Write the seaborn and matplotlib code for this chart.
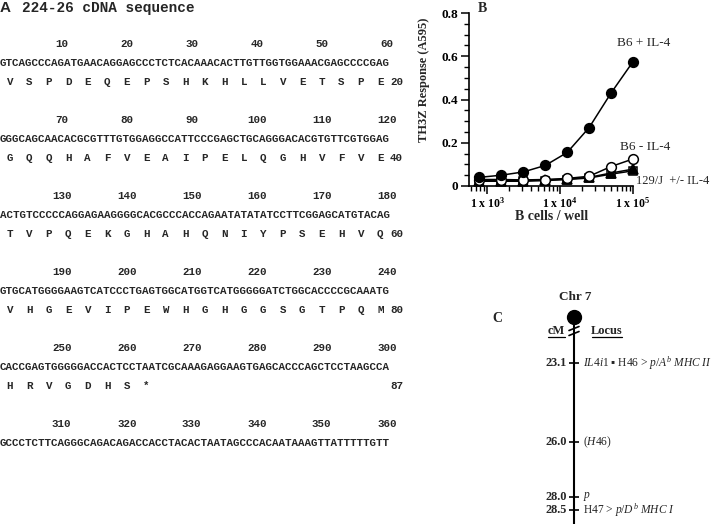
import numpy as np
import pandas as pd
import matplotlib
matplotlib.use("Agg")
import matplotlib.pyplot as plt
from matplotlib.ticker import MultipleLocator, LogLocator, NullFormatter
import seaborn as sns

sns.set_theme(style="ticks")
plt.rcParams["font.family"] = ["Liberation Serif", "DejaVu Sans"]
plt.rcParams["mathtext.fontset"] = "custom"
plt.rcParams["mathtext.rm"] = "Liberation Serif"
plt.rcParams["mathtext.it"] = "Liberation Serif:italic"
plt.rcParams["mathtext.bf"] = "Liberation Serif:bold"

# ---------------- Panel A data ----------------
seq_title = "224-26 cDNA sequence"
seq_lines = [
    "GTCAGCCCAGATGAACAGGAGCCCTCTCACAAACACTTGTTGGTGGAAACGAGCCCCGAG",
    "GGGCAGCAACACGCGTTTGTGGAGGCCATTCCCGAGCTGCAGGGACACGTGTTCGTGGAG",
    "ACTGTCCCCCAGGAGAAGGGGCACGCCCACCAGAATATATATCCTTCGGAGCATGTACAG",
    "GTGCATGGGGAAGTCATCCCTGAGTGGCATGGTCATGGGGGATCTGGCACCCCGCAAATG",
    "CACCGAGTGGGGGACCACTCCTAATCGCAAAGAGGAAGTGAGCACCCAGCTCCTAAGCCA",
    "GCCCTCTTCAGGGCAGACAGACCACCTACACTAATAGCCCACAATAAAGTTATTTTTGTT",
]
protein_lines = [
    "VSPDEQEPSHKHLLVETSPE",
    "GQQHAFVEAIPELQGHVFVE",
    "TVPQEKGHAHQNIYPSEHVQ",
    "VHGEVIPEWHGHGGSGTPQM",
    "HRVGDHS*",
    "",
]
protein_counts = ["20", "40", "60", "80", "87", ""]
ruler_step = 10

# ---------------- Panel B data ----------------
cells = [781.25, 1562.5, 3125, 6250, 12500, 25000, 50000, 100000]
b6_plus = [0.040, 0.050, 0.065, 0.095, 0.155, 0.270, 0.430, 0.575]
b6_minus = [0.030, 0.030, 0.028, 0.030, 0.035, 0.045, 0.090, 0.125]
j129_plus = [0.025, 0.025, 0.025, 0.028, 0.032, 0.040, 0.060, 0.078]
j129_minus = [0.022, 0.022, 0.022, 0.025, 0.030, 0.037, 0.055, 0.070]
y_ticks = [0, 0.2, 0.4, 0.6, 0.8]
y_tick_labels = ["0", "0.2", "0.4", "0.6", "0.8"]
x_ticks = [1e3, 1e4, 1e5]
x_tick_labels = [r"1 x 10$^{\mathbf{3}}$", r"1 x 10$^{\mathbf{4}}$", r"1 x 10$^{\mathbf{5}}$"]

# ---------------- Panel C data ----------------
loci_cm = [23.1, 26.0, 28.0, 28.5]
loci_cm_labels = ["23.1", "26.0", "28.0", "28.5"]
loci_names = [
    r"$\mathit{IL4i1}$ ▪ H46 > $\mathit{p/A^b\ MHC\ II}$",
    r"$\mathit{(H46)}$",
    r"$\mathit{p}$",
    r"H47 > $\mathit{p/D^b\ MHC\ I}$",
]

W, H = 720, 524
fig = plt.figure(figsize=(7.2, 5.24), dpi=100)
fig.patch.set_facecolor("white")


def box(l, t, r, b):
    return [l / W, 1 - b / H, (r - l) / W, (b - t) / H]


# overlay in pixel coordinates
axA = fig.add_axes([0, 0, 1, 1])
axA.set_xlim(0, W)
axA.set_ylim(H, 0)
axA.axis("off")

mono = "Liberation Mono"
cw = 6.5
fs_seq = cw / 0.6 * 72 / 100
axA.text(0, 8, "A", fontsize=11, fontweight="bold", family="Liberation Sans", va="center")
axA.text(22, 8, seq_title, fontsize=10.4, fontweight="bold", family=mono, va="center")
for k, seq in enumerate(seq_lines):
    y0 = 44 + 76 * k
    for n in range(ruler_step, len(seq) + 1, ruler_step):
        axA.text((n - 0.5) * cw, y0, str(len(seq) * k + n), family=mono, fontweight="bold",
                 fontsize=fs_seq, ha="center", va="center")
    axA.text(0, y0 + 19, seq, family=mono, fontweight="bold", fontsize=fs_seq, ha="left", va="center")
    for i, aa in enumerate(protein_lines[k]):
        axA.text((3 * i + 1.5) * cw, y0 + 38, aa, family=mono, fontweight="bold",
                 fontsize=fs_seq, ha="center", va="center")
    if protein_counts[k]:
        axA.text(60 * cw, y0 + 38, protein_counts[k], family=mono, fontweight="bold",
                 fontsize=fs_seq, ha="left", va="center")

# ---------------- Panel B ----------------
axB = fig.add_axes(box(469, 13, 633, 186))
axB.set_facecolor("none")
series = [
    (j129_minus, "s", "white", 6.0),
    (j129_plus, "^", "black", 7.0),
    (b6_minus, "o", "white", 7.0),
    (b6_plus, "o", "black", 7.0),
]
for vals, m, fc, ms in series:
    sns.lineplot(x=cells, y=vals, ax=axB, color="black", linewidth=1.1, marker=m,
                 markersize=ms, markerfacecolor=fc, markeredgecolor="black",
                 markeredgewidth=1.1, legend=False, clip_on=False)
axB.set_xscale("log")
axB.set_xlim(10 ** 2.75, 1e5)
axB.set_ylim(0, 0.8)
axB.set_yticks(y_ticks)
axB.set_yticklabels(y_tick_labels)
axB.yaxis.set_minor_locator(MultipleLocator(0.05))
axB.set_xticks(x_ticks)
axB.set_xticklabels(x_tick_labels)
axB.xaxis.set_minor_locator(LogLocator(base=10, subs=np.arange(2, 10)))
axB.xaxis.set_minor_formatter(NullFormatter())
for s in ["top", "right"]:
    axB.spines[s].set_visible(False)
for s in ["left", "bottom"]:
    axB.spines[s].set_linewidth(1.2)
    axB.spines[s].set_color("black")
axB.tick_params(which="major", direction="out", length=6, width=1.1, colors="black",
                labelsize=9.5, pad=2)
axB.tick_params(axis="x", which="major", labelsize=8.5, pad=1)
axB.tick_params(which="minor", direction="out", length=3.5, width=1.0, colors="black")
for lab in axB.get_yticklabels() + axB.get_xticklabels():
    lab.set_fontweight("bold")
axB.set_ylabel("TH3Z Response (A595)", fontsize=9, fontweight="bold")
axB.yaxis.label.set_va("center")
axB.yaxis.set_label_coords((424 - 469) / 164, (186 - 80) / 173)
axB.set_xlabel("B cells / well", fontsize=10, fontweight="bold")
axB.xaxis.label.set_va("center")
axB.xaxis.set_label_coords((552 - 469) / 164, (186 - 217) / 173)

axA.text(478, 8, "B", fontsize=10, fontweight="bold", va="center")
axA.text(617, 43, "B6 + IL-4", fontsize=9.5, va="center")
axA.text(620, 147, "B6 - IL-4", fontsize=9.5, va="center")
axA.text(636, 181, "129/J  +/- IL-4", fontsize=9, va="center")

# ---------------- Panel C ----------------
axC = fig.add_axes(box(440, 260, 720, 524))
axC.set_facecolor("none")
scale = 27.3


def cm_of(ypix):
    return 23.1 + (ypix - 363) / scale


axC.set_xlim(440, 720)
axC.set_ylim(cm_of(524), cm_of(260))
axC.axis("off")
xc = 574
axC.plot([xc, xc], [cm_of(318), cm_of(524)], color="black", lw=1.5, clip_on=False)
axC.plot([xc], [cm_of(317)], "o", color="black", markersize=10)
for yb in (328.5, 333.5):
    axC.plot([xc - 5, xc + 5], [cm_of(yb + 2), cm_of(yb - 2)], color="black", lw=1.2)
axC.text(xc + 1, cm_of(297), "Chr 7", fontsize=9.5, fontweight="bold", ha="center", va="center")
axC.text(556, cm_of(331), "cM", fontsize=9, fontweight="bold", ha="center", va="center")
axC.plot([548, 565], [cm_of(337), cm_of(337)], color="black", lw=0.9)
axC.text(607, cm_of(331), "Locus", fontsize=9, fontweight="bold", ha="center", va="center")
axC.plot([592, 622], [cm_of(337), cm_of(337)], color="black", lw=0.9)
axC.hlines(loci_cm, xc - 5, xc + 5, color="black", lw=1.2)
for cm, lab, name in zip(loci_cm, loci_cm_labels, loci_names):
    axC.text(567, cm, lab, fontsize=8.8, fontweight="bold", ha="right", va="center")
    axC.text(583, cm, name, fontsize=8.3, ha="left", va="center")
axC.text(497, cm_of(318), "C", fontsize=10, fontweight="bold", ha="center", va="center")

fig.savefig("out.png", dpi=100, facecolor="white")
